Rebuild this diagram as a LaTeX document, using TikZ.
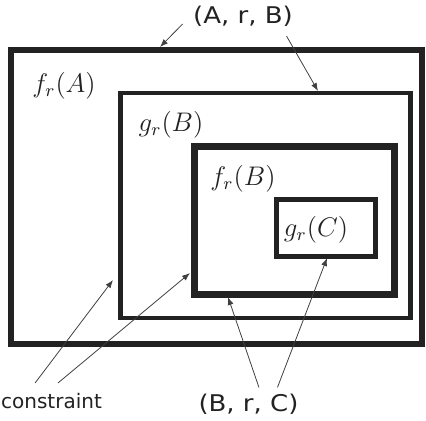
\documentclass[tikz,border=0pt]{standalone}
\usepackage{amsmath}
\usepackage{fontspec}
\newfontfamily\labelfont{DejaVu Sans}
\usetikzlibrary{arrows.meta}
\definecolor{boxgray}{HTML}{222222}

\begin{document}
\begin{tikzpicture}[x=0.5pt, y=-0.5pt,
  box/.style={draw=boxgray, line join=miter},
  pair/.style={font=\labelfont\fontsize{11.5}{13}\selectfont, text=boxgray, xscale=1.13, inner sep=4.5pt},
  setname/.style={font=\fontsize{12}{14}\selectfont, text=boxgray, scale=1.12, inner sep=0pt},
  pointer/.style={draw=black!75, line width=0.4pt, -{Latex[length=4pt,width=3pt]}}]
\useasboundingbox (0,0) rectangle (426,420);
\draw[box, line width=3pt] (11,50) rectangle (422,344);
\draw[box, line width=2.1pt] (120.5,93) rectangle (410.5,318);
\draw[box, line width=3.5pt] (194.5,146.5) rectangle (394.5,294.5);
\draw[box, line width=2.5pt] (276.5,199.5) rectangle (375.5,256);
\node[setname] (fA) at (64,86) {$f_r(A)$};
\node[setname] (gB) at (171,125) {$g_r(B)$};
\node[setname] (fB) at (243,179) {$f_r(B)$};
\node[setname] (gC) at (316,230) {$g_r(C)$};
\node[pair] (arb) at (243,16.5) {(A, r, B)};
\node[pair, inner sep=3pt] (brc) at (248.5,404) {(B, r, C)};
\node[font=\labelfont\fontsize{10}{12}\selectfont, text=boxgray, inner sep=5pt] (cons) at (51.5,401) {constraint};
% arrow ends on the boxes
\coordinate (tA) at (160,47);
\coordinate (tB) at (318,91);
\coordinate (tc1) at (113,280);
\coordinate (tc2) at (190,273);
\coordinate (tb1) at (228,297);
\coordinate (tb2) at (327,258);
\draw[pointer] (arb.188) -- (tA);
\draw[pointer] (arb.333) -- (tB);
\draw[pointer] (cons.132) -- (tc1);
\draw[pointer] (cons.70) -- (tc2);
\draw[pointer] (brc.61) -- (tb1);
\draw[pointer] (brc.33) -- (tb2);
\end{tikzpicture}
\end{document}
